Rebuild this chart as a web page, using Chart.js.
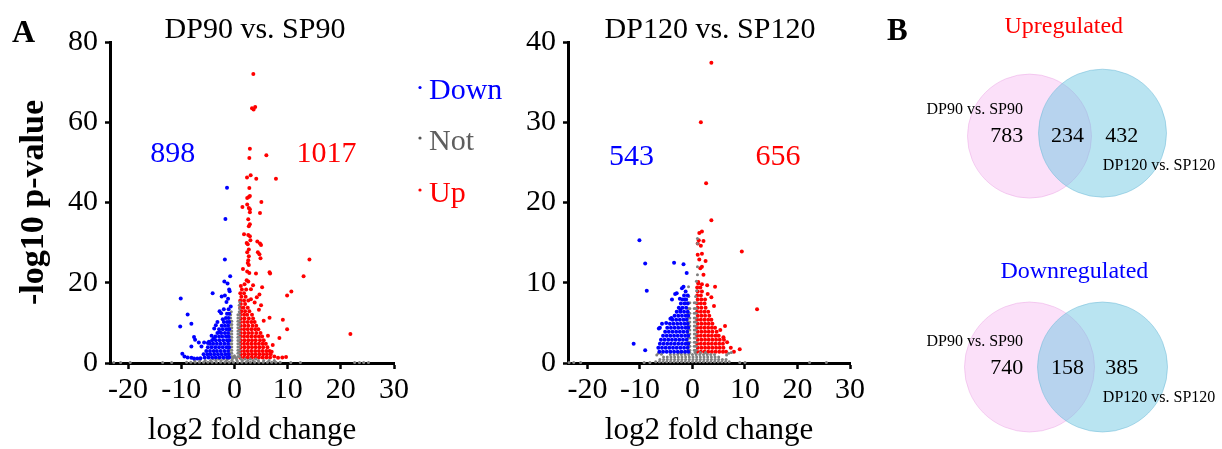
<!DOCTYPE html>
<html>
<head>
<meta charset="utf-8">
<script src="https://cdn.jsdelivr.net/npm/chart.js@4.4.1/dist/chart.umd.min.js"></script>
<style>
  html, body { margin: 0; padding: 0; background: #fff; }
  #wrap { position: relative; width: 1222px; height: 449px; overflow: hidden; }
  #wrap canvas { position: absolute; }
</style>
</head>
<body>
<div id="wrap">
  <canvas id="v90" width="520" height="449" style="left:0;top:0"></canvas>
  <canvas id="v120" width="350" height="449" style="left:520px;top:0"></canvas>
  <canvas id="vennUp" width="352" height="224" style="left:870px;top:0"></canvas>
  <canvas id="vennDown" width="352" height="225" style="left:870px;top:224px"></canvas>
</div>
<script>
const SERIF = "'Liberation Serif', 'Times New Roman', serif";

const comparisons = ['DP90 vs. SP90', 'DP120 vs. SP120'];
const classes = ['Down', 'Not', 'Up'];
const downCounts = [898, 543];
const upCounts = [1017, 656];
const xTicks = [-20, -10, 0, 10, 20, 30];
const yTicks90 = [0, 20, 40, 60, 80];
const yTicks120 = [0, 10, 20, 30, 40];

// Venn counts: [only DP90, shared, only DP120]
const vennUpCounts = [783, 234, 432];
const vennDownCounts = [740, 158, 385];

// isolated genes, [log2 fold change, -log10 p]
const down90Scatter = [
  [-1.4,43.7],[-1.7,35.9],[-1.8,25.8],[-0.8,21.6],[-1.9,20.3],[-1.3,19.8],[-1.0,18.3],[-0.9,17.9],
  [-4.1,17.4],[-2.4,16.6],[-1.8,16.8],[-10.1,16.1],[-0.7,14.1],[-8.8,12.1],[-8.1,9.8],[-10.2,9.1],
  [-7.6,6.5],[-7.4,5.8],[-8.1,4.1],[-6.7,5.1],[-5.7,5.1],[-6.2,4.1],[-5.0,5.0],[-9.8,2.3],[-9.4,1.6],
  [-8.8,1.4],[-8.1,1.3],[-7.6,1.1],[-7.0,1.1],[-6.4,1.2],[-2.8,12.9],[-2.5,12.4],[-2.0,13.4],
  [-2.2,10.9],[-3.8,8.6],[-3.2,10.2],[-2.8,7.7],[-4.3,6.8],[-3.9,6.1],[-4.8,5.3],[-1.5,15.2],
  [-1.2,16.0],[-3.5,9.4]
];
const up90Scatter = [
  [3.55,72],[3.3,63.5],[3.9,63.8],[3.6,63.2],[2.9,53.4],[2.8,51.1],[6.0,51.8],[3.05,46.8],[2.36,46.2],
  [4.1,45.9],[7.8,45.9],[2.8,43.6],[2.7,41.4],[2.4,41.1],[2.9,41.6],[5.06,40.1],[1.5,38.9],[2.4,39.5],
  [2.7,38.6],[2.9,38.3],[2.9,37.6],[4.8,37.4],[2.6,35.8],[2.9,34.6],[2.7,34.1],[1.8,32.1],[2.6,31.9],
  [2.9,31.6],[3.0,30.6],[2.3,29.9],[2.5,29.6],[4.3,30.3],[4.8,29.8],[5.0,29.4],[2.7,28.3],[2.4,27.6],
  [4.4,27.6],[4.7,27.1],[4.9,26.1],[2.7,26.6],[2.6,25.6],[2.5,24.9],[2.7,24.4],[1.6,23.4],[2.4,22.8],
  [2.8,22.4],[4.05,22.3],[6.6,22.6],[6.7,22.3],[14.1,25.8],[13.0,21.6],[2.3,20.6],[2.6,20.3],[1.9,19.6],
  [3.5,19.4],[3.1,18.4],[5.2,18.9],[10.7,17.8],[9.9,16.8],[4.7,17.1],[4.2,16.4],[3.1,15.9],[3.8,15.1],
  [5.0,14.4],[6.6,11.3],[9.1,10.8],[9.9,8.4],[8.45,6.2],[21.8,7.2],[8.2,1.3],[9.0,1.4],[9.7,1.5],
  [7.5,1.6],[4.6,13.3],[5.5,10.5],[6.3,6.8],[7.2,4.5],[7.0,2.8]
];
const not90Scatter = [
  [-22.7,0.1],[-21.4,0.1],[-19.6,0.1],[-13.5,0.1],[-11.8,0.1],[10.6,0.1],[12.4,0.1],
  [22.6,0.1],[23.5,0.1],[24.3,0.1],[25.2,0.1],
  [-0.7,11.2],[-0.7,12.0],[-0.6,12.8],[0.9,12.8],[0.95,13.6],[0.9,14.4],[1.0,15.2],
  [-0.2,1.4],[0.2,1.4],[0.0,1.8]
];

// dense blocks, [-log10 p, [log2 fold change, ...]]
const down90Rows = [
  [1.4, [-5.6,-4.9,-4.2,-3.5,-2.8,-2.1,-1.4,-1.0]],
  [2.2, [-5.8,-5.1,-4.5,-3.8,-3.1,-2.4,-1.7,-1.1]],
  [3.0, [-5.3,-4.6,-3.9,-3.3,-2.6,-1.9,-1.2]],
  [3.9, [-5.0,-4.3,-3.6,-2.9,-2.2,-1.5,-1.0]],
  [4.8, [-4.6,-4.0,-3.3,-2.6,-1.9,-1.2]],
  [5.7, [-4.2,-3.5,-2.8,-2.1,-1.4,-1.0]],
  [6.6, [-3.6,-2.9,-2.3,-1.6,-1.1]],
  [7.5, [-3.2,-2.5,-1.8,-1.2]],
  [8.4, [-2.9,-2.2,-1.5,-1.0]],
  [9.3, [-2.4,-1.8,-1.2]],
  [10.2, [-2.0,-1.4,-1.0]],
  [11.2, [-1.6,-1.1]],
  [12.3, [-1.4,-1.0]],
  [13.4, [-1.1]]
];
const up90Rows = [
  [1.4, [1.1,1.8,2.5,3.2,3.9,4.6,5.3,6.0,6.7]],
  [2.2, [1.2,1.9,2.6,3.3,4.0,4.7,5.4,6.1,6.8]],
  [3.0, [1.1,1.8,2.5,3.2,3.9,4.6,5.3,6.0,6.6]],
  [3.9, [1.2,1.9,2.6,3.3,4.0,4.7,5.4,6.2]],
  [4.8, [1.1,1.8,2.5,3.2,3.9,4.6,5.3,5.9]],
  [5.7, [1.2,1.9,2.6,3.3,4.0,4.8,5.5]],
  [6.6, [1.1,1.8,2.5,3.2,3.9,4.6,5.2]],
  [7.5, [1.2,1.9,2.6,3.3,4.1,4.9]],
  [8.4, [1.1,1.8,2.5,3.2,3.9,4.5]],
  [9.3, [1.2,1.9,2.6,3.4,4.1]],
  [10.2, [1.1,1.8,2.5,3.2,3.8]],
  [11.1, [1.2,1.9,2.7,3.5]],
  [12.0, [1.1,1.8,2.4,3.3]],
  [12.9, [1.3,2.0,2.8]],
  [13.8, [1.1,1.7,2.5]],
  [14.7, [1.2,2.0]],
  [15.6, [1.1,1.8,2.6]],
  [16.5, [1.3,2.1]],
  [17.4, [1.1,1.8]],
  [18.3, [1.4,2.2]],
  [19.2, [1.2]]
];
const not90Rows = [
  [0.2, [-9,-8.2,-7.4,-6.6,-5.8,-5,-4.2,-3.4,-2.6,-1.8,-1,-0.2,0.6,1.4,2.2,3,3.8,4.6,5.4,6.2,7,7.8,8.6]],
  [0.6, [-7.5,-6.5,-5.5,-4.5,-3.5,-2.5,-1.5,-0.5,0.5,1.5,2.5,3.5,4.5,5.5,6.5,7.5]],
  [1.0, [-4,-3,-2,-1.2,-0.4,0.4,1.2,2,3,4]],
  [1.6, [-0.85,-0.5,0.65,0.95]], [2.4, [-0.85,-0.5,0.65,0.95]], [3.2, [-0.85,-0.5,0.65,0.95]],
  [4.0, [-0.85,-0.5,0.65,0.95]], [4.8, [-0.85,-0.5,0.65,0.95]], [5.6, [-0.85,-0.5,0.65,0.95]],
  [6.4, [-0.85,-0.5,0.65,0.95]], [7.2, [-0.85,-0.5,0.65,0.95]], [8.0, [-0.85,-0.5,0.65,0.95]],
  [8.8, [-0.85,-0.5,0.65,0.95]], [9.6, [-0.85,-0.5,0.65,0.95]], [10.4, [-0.85,-0.5,0.65,0.95]],
  [11.2, [0.65,0.95]], [12.0, [0.65,0.95]]
];

const down120Scatter = [
  [-10.1,15.3],[-9.0,12.4],[-3.5,12.5],[-1.7,12.3],[-1.1,11.2],[-8.7,9.0],[-2.0,9.3],[-1.7,9.5],
  [-3.0,8.7],[-3.3,8.6],[-2.4,8.0],[-1.4,7.9],[-3.9,7.9],[-2.3,6.6],[-4.2,5.5],[-4.0,5.6],[-5.0,5.0],
  [-5.8,4.9],[-6.2,4.4],[-6.4,4.3],[-11.2,2.4],[-9.0,1.6]
];
const up120Scatter = [
  [3.6,37.4],[1.6,30.0],[2.6,22.4],[3.6,17.8],[1.3,16.2],[1.8,16.4],[1.2,15.3],[2.1,15.2],[1.0,14.9],
  [1.6,14.6],[9.4,13.9],[1.0,13.5],[1.8,13.6],[1.3,12.9],[2.5,12.7],[1.5,11.8],[1.8,12.0],[2.1,11.0],
  [1.1,10.1],[1.8,9.8],[2.8,9.7],[4.3,9.5],[4.1,7.1],[12.3,6.7],[6.2,4.6],[5.9,3.2],[7.3,1.9],[9.0,1.7],
  [7.9,1.4],[3.6,8.2],[2.9,8.6],[5.3,4.1],[6.6,2.6]
];
const not120Scatter = [
  [-23.5,0.05],[-22.6,0.05],[-21.3,0.05],[-9.2,0.05],[-8.1,0.05],[9.0,0.05],[10.0,0.05],[22.3,0.05],[25.5,0.05],
  [-6.8,1.0],[-6.5,1.2],[-5.9,1.1],[6.5,1.0],[6.9,1.2],[7.4,1.3],
  [-0.7,8.3],[-0.75,9.5],[0.6,8.3],[0.8,9.0],[0.75,10.2],[0.95,11.0],[0.95,12.0],[0.95,14.9],[0.95,15.5]
];
const down120Rows = [
  [1.4, [-6.3,-5.6,-4.9,-4.2,-3.5,-2.8,-2.1,-1.4,-0.8]],
  [1.9, [-6.5,-5.8,-5.1,-4.4,-3.7,-3.0,-2.3,-1.6,-0.9]],
  [2.4, [-6.2,-5.5,-4.8,-4.1,-3.4,-2.7,-2.0,-1.3,-0.8]],
  [2.9, [-6.0,-5.3,-4.6,-3.9,-3.2,-2.5,-1.8,-1.1]],
  [3.4, [-5.6,-4.9,-4.2,-3.5,-2.8,-2.1,-1.4,-0.8]],
  [3.9, [-5.2,-4.5,-3.8,-3.1,-2.4,-1.7,-1.0]],
  [4.4, [-4.8,-4.1,-3.4,-2.7,-2.0,-1.3,-0.8]],
  [4.9, [-4.3,-3.6,-2.9,-2.2,-1.5,-0.9]],
  [5.4, [-3.8,-3.1,-2.4,-1.7,-1.1]],
  [5.9, [-3.4,-2.7,-2.0,-1.3,-0.8]],
  [6.4, [-3.0,-2.3,-1.6,-0.9]],
  [6.9, [-2.6,-1.9,-1.2]],
  [7.4, [-2.2,-1.5,-0.9]],
  [7.9, [-1.9,-1.2]],
  [8.4, [-1.6,-0.9]],
  [8.9, [-1.3]]
];
const up120Rows = [
  [1.4, [0.9,1.6,2.3,3.0,3.7,4.4,5.1,5.8,6.4]],
  [1.9, [1.0,1.7,2.4,3.1,3.8,4.5,5.2,5.9]],
  [2.4, [0.9,1.6,2.3,3.0,3.7,4.4,5.1,5.8]],
  [2.9, [1.0,1.7,2.4,3.1,3.8,4.5,5.2,6.0]],
  [3.4, [0.9,1.6,2.3,3.0,3.7,4.4,5.0]],
  [3.9, [1.0,1.7,2.4,3.1,3.8,4.6]],
  [4.4, [0.9,1.6,2.3,3.0,3.7,4.3]],
  [4.9, [1.0,1.7,2.4,3.1,3.8]],
  [5.4, [0.9,1.6,2.3,3.0,3.6]],
  [5.9, [1.0,1.7,2.4,3.2]],
  [6.4, [0.9,1.6,2.3,3.0]],
  [6.9, [1.0,1.7,2.5]],
  [7.4, [0.9,1.6,2.3]],
  [7.9, [1.0,1.7,2.4]],
  [8.4, [0.9,1.6]],
  [8.9, [1.0,1.8]],
  [9.4, [0.9,1.5]],
  [9.9, [1.1]]
];
const not120Rows = [
  [0.15, [-7,-6.3,-5.6,-4.9,-4.2,-3.5,-2.8,-2.1,-1.4,-0.7,0,0.7,1.4,2.1,2.8,3.5,4.2,4.9,5.6,6.3,7.0]],
  [0.45, [-6.2,-5.5,-4.8,-4.1,-3.4,-2.7,-2.0,-1.3,-0.6,0.1,0.8,1.5,2.2,2.9,3.6,4.3,5.0,5.7,6.4]],
  [0.75, [-5.5,-4.8,-4.1,-3.4,-2.7,-2.0,-1.3,-0.6,0.1,0.8,1.5,2.2,2.9,3.6,4.3,5.0]],
  [1.05, [-4.2,-3.5,-2.8,-2.1,-1.4,-0.7,0,0.7,1.4,2.1,2.8,3.5,4.2]],
  [1.3, [-2.5,-1.5,-0.5,0.5,1.5,2.5]],
  [1.6, [-0.85,-0.5,0.35,0.7]], [2.1, [-0.85,-0.5,0.35,0.7]], [2.6, [-0.85,-0.5,0.35,0.7]],
  [3.1, [-0.85,-0.5,0.35,0.7]], [3.6, [-0.85,-0.5,0.35,0.7]], [4.1, [-0.85,-0.5,0.35,0.7]],
  [4.6, [-0.85,-0.5,0.35,0.7]], [5.1, [-0.85,-0.5,0.35,0.7]], [5.6, [-0.85,-0.5,0.35,0.7]],
  [6.2, [-0.85,-0.5,0.35,0.7]], [6.8, [-0.85,-0.5,0.35,0.7]], [7.5, [-0.85,-0.5,0.35,0.7]]
];

const BLUE = '#0000ff', RED = '#ff0000', GREY = '#808080';

function fromRows(rows) {
  const out = [];
  rows.forEach(([y, xs]) => xs.forEach(x => out.push([x, y])));
  return out;
}

// free text: titles, counts, legend entries, panel letters
const textLayer = {
  id: 'textLayer',
  afterDraw(chart, args, opts) {
    const ctx = chart.ctx;
    (opts.items || []).forEach(it => {
      const px = it.data ? chart.scales.x.getPixelForValue(it.x) : it.x;
      const py = it.data ? chart.scales.y.getPixelForValue(it.y) : it.y;
      ctx.save();
      ctx.font = it.font + ' ' + SERIF;
      ctx.fillStyle = it.color || '#000';
      ctx.textAlign = it.align || 'center';
      ctx.textBaseline = 'alphabetic';
      ctx.fillText(it.text, px, py);
      if (it.dot) {
        ctx.fillStyle = it.dot;
        ctx.beginPath();
        ctx.arc(px - 9, py - 11.5, 1.6, 0, Math.PI * 2);
        ctx.fill();
      }
      ctx.restore();
    });
  }
};

function volcano(id, o) {
  const pts = { borderWidth: 0, clip: false, pointHoverRadius: 0 };
  return new Chart(document.getElementById(id), {
    type: 'scatter',
    data: {
      datasets: [
        Object.assign({ label: classes[0], data: o.down, backgroundColor: BLUE, pointRadius: 2 }, pts),
        Object.assign({ label: classes[1], data: o.not, backgroundColor: GREY, pointRadius: 1.5 }, pts),
        Object.assign({ label: classes[2], data: o.up, backgroundColor: RED, pointRadius: 2 }, pts)
      ]
    },
    options: {
      responsive: false,
      animation: false,
      events: [],
      layout: { padding: { left: 0, right: o.padRight, top: 42, bottom: 0 } },
      scales: {
        x: {
          type: 'linear', min: o.xMin, max: 30,
          afterBuildTicks: s => { s.ticks = xTicks.map(v => ({ value: v })); },
          afterFit: s => { s.height = 86; },
          border: { color: '#000', width: 3 },
          grid: { drawOnChartArea: false, tickLength: 6, tickWidth: 2.5, tickColor: '#000' },
          ticks: { font: { family: SERIF, size: 30 }, color: '#000', padding: 3, maxRotation: 0 },
          title: { display: true, text: 'log2 fold change', color: '#000',
                   font: { family: SERIF, size: 31 }, padding: { top: 0, bottom: 0 } }
        },
        y: {
          type: 'linear', min: 0, max: o.yTicks[o.yTicks.length - 1],
          afterBuildTicks: s => { s.ticks = o.yTicks.map(v => ({ value: v })); },
          afterFit: s => { s.width = o.axisWidth; },
          border: { color: '#000', width: 3 },
          grid: { drawOnChartArea: false, tickLength: 5, tickWidth: 2.5, tickColor: '#000' },
          ticks: { font: { family: SERIF, size: 30 }, color: '#000', padding: 7 },
          title: { display: !!o.yTitle, text: o.yTitle || '', color: '#000',
                   font: { family: SERIF, size: 34, weight: 'bold' }, padding: { top: 14, bottom: 0 } }
        }
      },
      plugins: {
        legend: { display: false },
        tooltip: { enabled: false },
        textLayer: { items: o.text }
      }
    },
    plugins: [textLayer]
  });
}

volcano('v90', {
  down: down90Scatter.concat(fromRows(down90Rows)),
  not: not90Scatter.concat(fromRows(not90Rows)),
  up: up90Scatter.concat(fromRows(up90Rows)),
  xMin: -23.4, yTicks: yTicks90, axisWidth: 110, padRight: 126,
  yTitle: '-log10 p-value',
  text: [
    { text: 'A', x: 12, y: 42, font: 'bold 32px', align: 'left' },
    { text: comparisons[0], x: 255, y: 38, font: '30px' },
    { text: String(downCounts[0]), data: true, x: -11.6, y: 50, font: '30px', color: BLUE },
    { text: String(upCounts[0]), data: true, x: 17.3, y: 50, font: '30px', color: RED },
    { text: classes[0], x: 429, y: 99, font: '30px', align: 'left', color: BLUE, dot: BLUE },
    { text: classes[1], x: 429, y: 149.5, font: '30px', align: 'left', color: '#5e5e5e', dot: '#555' },
    { text: classes[2], x: 429, y: 201.5, font: '30px', align: 'left', color: RED, dot: RED }
  ]
});

volcano('v120', {
  down: down120Scatter.concat(fromRows(down120Rows)),
  not: not120Scatter.concat(fromRows(not120Rows)),
  up: up120Scatter.concat(fromRows(up120Rows)),
  xMin: -23.7, yTicks: yTicks120, axisWidth: 48, padRight: 20,
  text: [
    { text: comparisons[1], x: 190, y: 38, font: '30px' },
    { text: String(downCounts[1]), data: true, x: -11.6, y: 24.7, font: '30px', color: BLUE },
    { text: String(upCounts[1]), data: true, x: 16.3, y: 24.7, font: '30px', color: RED }
  ]
});

// The bubble controller insets the chart area by the largest radius (+ border),
// so the hidden axes are sized from that inset to keep x=0,y=0 at (cx, cy)
// and one unit equal to `unit` pixels.
function venn(id, o) {
  const el = document.getElementById(id);
  const c = o.counts;
  const pad = Math.max(o.r[0], o.r[1]) + 1;
  const unit = 36.5;
  return new Chart(el, {
    type: 'bubble',
    data: {
      datasets: [
        { label: comparisons[1], data: [{ x: 1, y: o.yB }], radius: o.r[1], order: 0, clip: false,
          backgroundColor: 'rgba(100,195,225,0.45)', borderColor: 'rgba(110,185,215,0.5)', borderWidth: 1 },
        { label: comparisons[0], data: [{ x: -1, y: o.yA }], radius: o.r[0], order: 1, clip: false,
          backgroundColor: 'rgba(245,180,240,0.42)', borderColor: 'rgba(235,170,230,0.5)', borderWidth: 1 }
      ]
    },
    options: {
      responsive: false,
      animation: false,
      events: [],
      layout: { padding: 0 },
      scales: {
        x: { type: 'linear', display: false,
             min: -(o.cx - pad) / unit, max: (el.width - pad - o.cx) / unit },
        y: { type: 'linear', display: false,
             min: -(el.height - pad - o.cy) / unit, max: (o.cy - pad) / unit }
      },
      plugins: {
        legend: { display: false },
        tooltip: { enabled: false },
        textLayer: {
          items: o.extra.concat([
            { text: o.title, data: true, x: o.titleX, y: o.titleY, font: '24px', color: o.titleColor },
            { text: String(c[0]), data: true, x: -1.62, y: -0.18, font: '22px' },
            { text: String(c[1]), data: true, x: 0.04, y: -0.18, font: '22px' },
            { text: String(c[2]), data: true, x: 1.53, y: -0.18, font: '22px' },
            { text: comparisons[0], data: true, x: -2.5, y: 0.58, font: '16px' },
            { text: comparisons[1], data: true, x: 2.55, y: -0.96, font: '16px' }
          ])
        }
      }
    },
    plugins: [textLayer]
  });
}

venn('vennUp', {
  counts: vennUpCounts, r: [62, 64], yA: -0.03, yB: 0.05,
  cx: 196, cy: 135,
  title: 'Upregulated', titleColor: RED, titleX: -0.06, titleY: 2.79,
  extra: [{ text: 'B', x: 17, y: 40, font: 'bold 31px', align: 'left' }]
});

venn('vennDown', {
  counts: vennDownCounts, r: [65, 65], yA: 0, yB: 0,
  cx: 196, cy: 143,
  title: 'Downregulated', titleColor: BLUE, titleX: 0.23, titleY: 2.44,
  extra: []
});
</script>
</body>
</html>
